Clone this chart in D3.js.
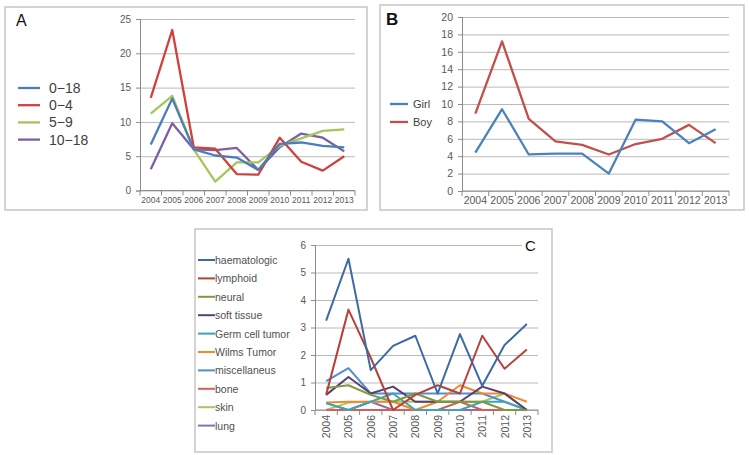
<!DOCTYPE html>
<html><head><meta charset="utf-8">
<script src="https://cdn.jsdelivr.net/npm/d3@7"></script>
<style>body{margin:0;background:#fff}svg{display:block}text{font-family:"Liberation Sans",Arial,sans-serif}</style>
</head><body>
<svg id="c" width="749" height="455"></svg>
<script>
const years = ["2004","2005","2006","2007","2008","2009","2010","2011","2012","2013"];

// Panel A
const aSeries = ["0-18","0-4","5-9","10-18"];
const a_0_18  = [6.7,13.4,6.0,5.1,4.8,3.0,6.8,7.0,6.5,6.3];
const a_0_4   = [13.5,23.4,6.3,6.1,2.4,2.3,7.7,4.2,2.9,5.0];
const a_5_9   = [11.2,13.8,6.0,1.3,4.1,4.1,6.5,7.6,8.7,8.9];
const a_10_18 = [3.1,9.8,6.0,5.9,6.2,3.0,6.3,8.3,7.7,5.7];
const aTicks  = [0,5,10,15,20,25];

// Panel B
const bSeries = ["Girl","Boy"];
const bGirl = [4.4,9.4,4.2,4.3,4.3,2.0,8.2,8.0,5.5,7.1];
const bBoy  = [8.9,17.2,8.3,5.7,5.3,4.2,5.4,6.0,7.6,5.5];
const bTicks = [0,2,4,6,8,10,12,14,16,18,20];

// Panel C
const cSeries = ["haematologic","lymphoid","neural","soft tissue","Germ cell tumor","Wilms Tumor","miscellaneus","bone","skin","lung"];
const cHaem  = [3.25,5.5,1.45,2.33,2.7,0.6,2.76,0.88,2.36,3.13];
const cLymph = [0.55,3.65,1.9,0,0.55,0.9,0.6,2.7,1.5,2.2];
const cNeur  = [0.8,0.9,0.55,0.3,0.6,0.3,0.3,0.3,0,0];
const cSoft  = [0.55,1.2,0.6,0.85,0.3,0.3,0.3,0.85,0.6,0];
const cGerm  = [0.25,0,0.3,0.6,0,0,0,0.3,0.3,0];
const cWilms = [0.27,0.3,0.3,0.3,0,0.3,0.9,0.6,0.6,0.3];
const cMisc  = [1.05,1.52,0.6,0.6,0.6,0.6,0.6,0.6,0.3,0];
const cBone  = [0,0,0,0,0,0,0.3,0,0,0];
const cSkin  = [0,0.27,0.3,0.3,0.3,0.3,0.3,0.3,0.6,0];
const cLung  = [0.25,0,0.3,0,0,0,0,0,0,0];
const cTicks = [0,1,2,3,4,5,6];

const svg = d3.select("#c");
const gridCol = "#b9b9b9", axisCol = "#8c8c8c", labCol = "#595959";

function panel(x0,y0,w,h){
  svg.append("rect").attr("x",x0).attr("y",y0).attr("width",w).attr("height",h)
    .attr("fill","#fff").attr("stroke","#c6c6c6").attr("stroke-width",1.5);
}

function chart(opt){
  const x = d3.scaleBand().domain(years).range(opt.xr).padding(0);
  const y = d3.scaleLinear().domain(opt.yd).range(opt.yr);
  const g = svg.append("g");
  g.append("g").attr("transform",`translate(${opt.xr[0]},0)`)
    .call(d3.axisLeft(y).tickValues(opt.ticks).tickSize(-(opt.xr[1]-opt.xr[0])).tickFormat(""))
    .call(s=>s.select(".domain").remove())
    .call(s=>s.selectAll("line").attr("stroke",gridCol).attr("stroke-width",1));
  g.append("g").attr("transform",`translate(${opt.xr[0]},0)`)
    .call(d3.axisLeft(y).tickValues(opt.ticks).tickSize(4).tickPadding(opt.ypad||5).tickFormat(d3.format("d")))
    .call(s=>s.select(".domain").attr("stroke",axisCol))
    .call(s=>s.selectAll("line").attr("stroke",axisCol))
    .call(s=>s.selectAll("text").attr("fill",labCol).attr("font-size",opt.yfs));
  const xa = g.append("g").attr("transform",`translate(0,${opt.yr[0]})`);
  xa.append("line").attr("x1",opt.xr[0]).attr("x2",opt.xr[1]).attr("stroke",axisCol);
  const edges = years.map(d=>x(d)).concat([x(years[years.length-1])+x.bandwidth()]);
  xa.selectAll("line.t").data(edges).join("line").attr("class","t")
    .attr("x1",d=>d).attr("x2",d=>d).attr("y1",0).attr("y2",5).attr("stroke",axisCol);
  if(opt.rot){
    xa.selectAll("text.l").data(years).join("text").attr("class","l")
      .attr("transform",d=>`translate(${x(d)+x.bandwidth()/2+4},${opt.xlab}) rotate(-90)`)
      .attr("text-anchor","end").attr("fill",labCol).attr("font-size",opt.xfs).text(d=>d);
  } else {
    xa.selectAll("text.l").data(years).join("text").attr("class","l")
      .attr("x",d=>x(d)+x.bandwidth()/2).attr("y",opt.xlab)
      .attr("text-anchor","middle").attr("fill",labCol).attr("font-size",opt.xfs).text(d=>d);
  }
  const line = d3.line().x((d,i)=>x(years[i])+x.bandwidth()/2).y(d=>y(d));
  opt.series.forEach((s)=>{
    g.append("path").datum(s.v).attr("d",line).attr("fill","none")
      .attr("stroke",s.c).attr("stroke-width",opt.lw).attr("stroke-linejoin","round");
  });
  return {x,y,g};
}

// ---- Panel A
panel(5,7,362,203);
svg.append("text").attr("x",16).attr("y",26).attr("font-size",16).attr("fill","#111").text("A");
const aCols = ["#4a7dba","#d2403d","#a4c65a","#7c5fa5"];
const aVals = [a_0_18,a_0_4,a_5_9,a_10_18];
chart({xr:[140,355], yd:[0,25], yr:[190.5,19], ticks:aTicks, yfs:10, xfs:8.5, xlab:12,
  lw:2.3, series:aVals.map((v,i)=>({v,c:aCols[i]})).reverse()});
aSeries.forEach((s,i)=>{
  const yy = 88 + i*17.2;
  svg.append("line").attr("x1",18).attr("x2",40).attr("y1",yy).attr("y2",yy).attr("stroke",aCols[i]).attr("stroke-width",2.3);
  svg.append("text").attr("x",49).attr("y",yy+5).attr("font-size",14).attr("fill","#404040").text(s.replace("-","\u2212"));
});

// ---- Panel B
panel(380,5,364,205);
svg.append("text").attr("x",386).attr("y",25).attr("font-size",17).attr("font-weight","bold").attr("fill","#111").text("B");
const bCols = ["#4a82bd","#c0504d"];
chart({xr:[462,729], yd:[0,20], yr:[191,17], ticks:bTicks, yfs:10.5, xfs:10.5, xlab:13,
  lw:2.3, series:[{v:bBoy,c:bCols[1]},{v:bGirl,c:bCols[0]}]});
bSeries.forEach((s,i)=>{
  const yy = 104 + i*18;
  svg.append("line").attr("x1",390).attr("x2",408).attr("y1",yy).attr("y2",yy).attr("stroke",bCols[i]).attr("stroke-width",2.3);
  svg.append("text").attr("x",413).attr("y",yy+4).attr("font-size",11).attr("fill","#404040").text(s);
});

// ---- Panel C
panel(195,229,357,223);
const cCols = ["#3d6aa3","#b8403c","#7d9a3c","#5b3f6e","#3fa3b8","#f08a2c","#4f8fd0","#d0605a","#a6c660","#8a6fb0"];
const cVals = [cHaem,cLymph,cNeur,cSoft,cGerm,cWilms,cMisc,cBone,cSkin,cLung];
chart({xr:[315,538], yd:[0,6], yr:[410,245], ticks:cTicks, yfs:10, xfs:10.5, xlab:5,
  lw:2, rot:true, series:cVals.map((v,i)=>({v,c:cCols[i]})).reverse()});
svg.append("rect").attr("x",522).attr("y",236).attr("width",22).attr("height",18).attr("fill","#fff");
svg.append("text").attr("x",525).attr("y",251).attr("font-size",15).attr("fill","#111").text("C");
cSeries.forEach((s,i)=>{
  const yy = 260 + i*18.4;
  svg.append("line").attr("x1",198).attr("x2",215).attr("y1",yy).attr("y2",yy).attr("stroke",cCols[i]).attr("stroke-width",2);
  svg.append("text").attr("x",215).attr("y",yy+4).attr("font-size",10.5).attr("fill","#505050").text(s);
});
</script>
</body></html>
